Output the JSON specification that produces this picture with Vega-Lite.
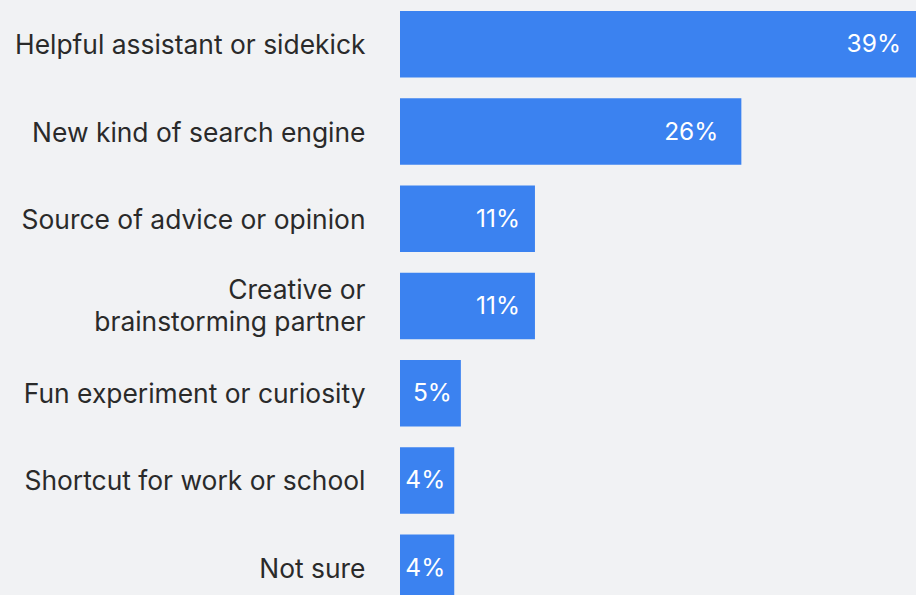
{
  "$schema": "https://vega.github.io/schema/vega-lite/v6.json",
  "width": 516,
  "height": 612,
  "autosize": {"type": "none"},
  "padding": {"left": 400, "top": 0, "right": 0, "bottom": 0},
  "background": "#f1f2f4",
  "config": {"view": {"stroke": null}, "font": "Inter"},
  "data": {
    "values": [
      {"category": "Helpful assistant or sidekick", "value": 39, "label": "39%"},
      {"category": "New kind of search engine", "value": 25.8, "label": "26%"},
      {"category": "Source of advice or opinion", "value": 10.2, "label": "11%"},
      {"category": "Creative or brainstorming partner", "value": 10.2, "label": "11%"},
      {"category": "Fun experiment or curiosity", "value": 4.6, "label": "5%"},
      {"category": "Shortcut for work or school", "value": 4.1, "label": "4%"},
      {"category": "Not sure", "value": 4.1, "label": "4%"}
    ]
  },
  "encoding": {
    "y": {
      "field": "category",
      "type": "nominal",
      "sort": null,
      "scale": {"paddingInner": 0.237, "paddingOuter": 0.126},
      "axis": {
        "title": null,
        "ticks": false,
        "domain": false,
        "labelPadding": 35,
        "labelFontSize": 26.4,
        "labelColor": "#2a2a2a",
        "labelFont": "Inter",
        "labelLimit": 400,
        "labelLineHeight": 32,
        "labelOffset": {"expr": "datum.value == 'Creative or brainstorming partner' ? -15 : 2"},
        "labelExpr": "datum.value == 'Creative or brainstorming partner' ? ['Creative or', 'brainstorming partner'] : datum.value"
      }
    }
  },
  "layer": [
    {
      "mark": {"type": "bar", "color": "#3b82f0"},
      "encoding": {
        "x": {
          "field": "value",
          "type": "quantitative",
          "scale": {"domain": [0, 39], "nice": false},
          "axis": null
        }
      }
    },
    {
      "mark": {
        "type": "text",
        "align": "right",
        "baseline": "middle",
        "color": "#ffffff",
        "fontSize": 24.5,
        "font": "Inter",
        "dy": 1,
        "dx": {"expr": "datum.value < 6 ? -9 : (datum.value > 20 && datum.value < 30 ? -23 : -15)"}
      },
      "encoding": {
        "x": {"field": "value", "type": "quantitative"},
        "text": {"field": "label"}
      }
    }
  ]
}
